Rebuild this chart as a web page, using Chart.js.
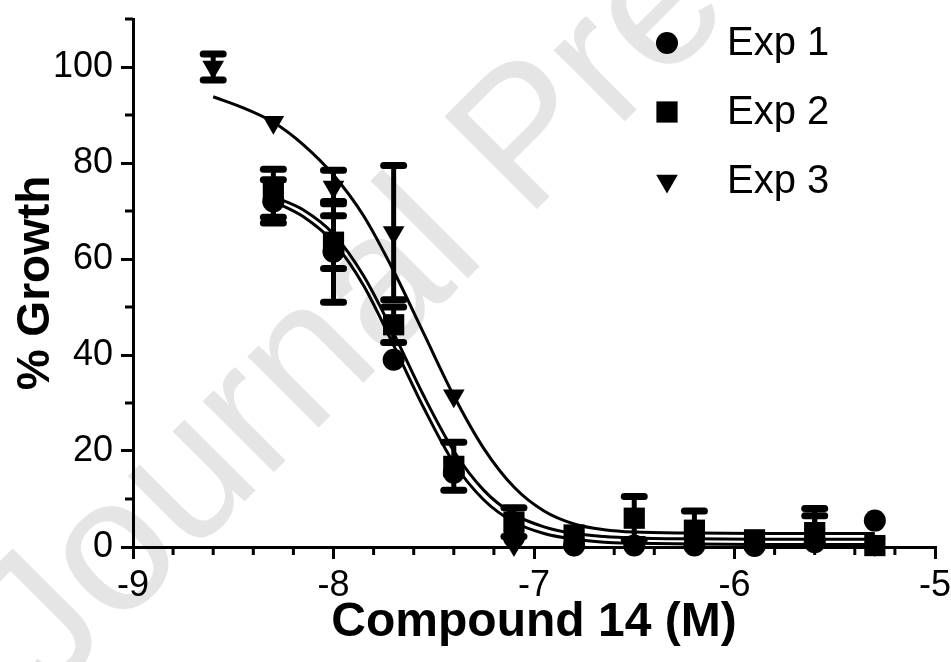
<!DOCTYPE html>
<html><head><meta charset="utf-8">
<script src="https://cdn.jsdelivr.net/npm/chart.js@4.4.0/dist/chart.umd.min.js"></script>
<style>html,body{margin:0;padding:0;background:#fff;}#wrap{width:951px;height:662px;}</style>
</head><body><div id="wrap"><canvas id="c" width="951" height="662"></canvas></div>
<script>
// ---------- data ----------
const seriesNames = ['Exp 1', 'Exp 2', 'Exp 3'];
const logConc = [-8.6, -8.3, -8.0, -7.7, -7.4, -7.1, -6.8, -6.5, -6.2, -5.9, -5.6, -5.3];
const exp1Growth = [null, 72.0, 61.5, 39.0, 15.5, 2.0, 0.3, 0.3, 0.3, 0.2, 1.0, 5.5];
const exp1Err    = [0, 4.5, 10.5, 0, 0, 0, 0, 0, 0, 0, 0, 0];
const exp2Growth = [null, 73.7, 63.5, 46.3, 16.8, 5.2, 2.5, 6.0, 3.5, 1.5, 3.0, 0.3];
const exp2Err    = [0, 5.0, 5.5, 3.7, 5.0, 3.0, 0, 4.5, 4.0, 0, 3.5, 0];
const exp3Growth = [100.0, 88.5, 75.0, 65.5, 31.5, 0.5, 0.5, 1.0, 1.0, 0.5, 2.5, 0.5];
const exp3Err    = [2.7, 0, 3.5, 14.0, 0, 0, 0, 0, 0, 0, 5.5, 0];

const fitConc3  = [-8.6, -8.45, -8.3, -8.15, -8.0, -7.85, -7.7, -7.55, -7.4, -7.25, -7.1, -6.95, -6.8, -6.65, -6.5, -6.2, -5.9, -5.6, -5.3];
const fitExp3   = [93.8, 91.5, 88.5, 83.8, 77.5, 69.0, 57.5, 44.5, 31.5, 20.5, 12.5, 7.5, 4.8, 3.6, 3.1, 2.9, 2.8, 2.8, 2.8];
const fitConc12 = [-8.3, -8.15, -8.0, -7.85, -7.7, -7.55, -7.4, -7.25, -7.1, -6.95, -6.8, -6.65, -6.5, -6.2, -5.9, -5.6, -5.3];
const fitExp1   = [72.0, 68.8, 63.5, 54.5, 42.0, 29.0, 17.5, 9.8, 5.2, 2.8, 1.6, 1.0, 0.8, 0.6, 0.5, 0.5, 0.5];
const fitExp2   = [73.0, 70.2, 65.2, 56.5, 44.5, 31.5, 20.0, 11.8, 6.8, 4.2, 2.8, 2.2, 1.9, 1.7, 1.6, 1.6, 1.6];

const xMajorTicks = [-9, -8, -7, -6, -5];
const xMinorTicks = [-8.8, -8.6, -8.4, -8.2, -7.8, -7.6, -7.4, -7.2, -6.8, -6.6, -6.4, -6.2, -5.8, -5.6, -5.4, -5.2];
const yMajorTicks = [0, 20, 40, 60, 80, 100];
const yMinorTicks = [10, 30, 50, 70, 90, 110];
const xTitle = 'Compound 14 (M)';
const yTitle = '% Growth';
const watermarkText = 'Journal Pre-proof';

// ---------- helpers ----------
const FONT = "Arial, 'Liberation Sans', sans-serif";
function pts(xs, ys) {
  const out = [];
  xs.forEach((x, i) => { if (ys[i] !== null && ys[i] !== undefined) out.push({x: x, y: ys[i]}); });
  return out;
}
function errs(xs, ys, es) {
  const out = [];
  xs.forEach((x, i) => { if (ys[i] !== null && ys[i] !== undefined) out.push(es[i]); });
  return out;
}

const watermarkPlugin = {
  id: 'watermark',
  beforeDraw(chart) {
    const ctx = chart.ctx;
    ctx.save();
    ctx.fillStyle = '#ffffff';
    ctx.fillRect(0, 0, chart.width, chart.height);
    ctx.translate(48, 698);
    ctx.rotate(-45 * Math.PI / 180);
    ctx.font = '190px ' + FONT;
    ctx.fillStyle = '#e5e5e5';
    ctx.textBaseline = 'alphabetic';
    ctx.fillText(watermarkText, 0, 0);
    ctx.restore();
  }
};

const minorTickPlugin = {
  id: 'minorTicks',
  beforeDatasetsDraw(chart) {
    const {ctx, scales: {x, y}} = chart;
    ctx.save();
    ctx.strokeStyle = '#000';
    ctx.lineWidth = 3;
    xMinorTicks.forEach(v => {
      const px = x.getPixelForValue(v);
      ctx.beginPath(); ctx.moveTo(px, x.top); ctx.lineTo(px, x.top + 8); ctx.stroke();
    });
    yMinorTicks.forEach(v => {
      const py = y.getPixelForValue(v);
      ctx.beginPath(); ctx.moveTo(y.right, py); ctx.lineTo(y.right - 8, py); ctx.stroke();
    });
    ctx.restore();
  }
};

const errorBarPlugin = {
  id: 'errorBars',
  afterDatasetDraw(chart, args) {
    const ds = chart.data.datasets[args.index];
    if (!ds.errorBars) return;
    const {ctx, scales: {x, y}} = chart;
    ctx.save();
    ctx.strokeStyle = '#000';
    ds.data.forEach((p, i) => {
      const e = ds.errorBars[i];
      if (!e) return;
      const px = x.getPixelForValue(p.x);
      const top = y.getPixelForValue(p.y + e);
      const lowVal = p.y - e;
      const bot = y.getPixelForValue(Math.max(lowVal, y.min));
      ctx.lineWidth = 5; ctx.lineCap = 'butt';
      ctx.beginPath(); ctx.moveTo(px, top); ctx.lineTo(px, bot); ctx.stroke();
      ctx.lineWidth = 7; ctx.lineCap = 'round';
      ctx.beginPath(); ctx.moveTo(px - 10, top); ctx.lineTo(px + 10, top); ctx.stroke();
      if (lowVal >= y.min) {
        ctx.beginPath(); ctx.moveTo(px - 10, bot); ctx.lineTo(px + 10, bot); ctx.stroke();
      }
    });
    ctx.restore();
  }
};

const legendPlugin = {
  id: 'customLegend',
  afterDraw(chart) {
    const ctx = chart.ctx;
    ctx.save();
    ctx.fillStyle = '#000';
    ctx.font = '40px ' + FONT;
    ctx.textBaseline = 'middle';
    ctx.textAlign = 'left';
    seriesNames.forEach((name, i) => {
      const ds = chart.data.datasets[i];
      const cy = 43 + i * 69;
      Chart.helpers.drawPoint(ctx, {pointStyle: ds.pointStyle, radius: ds.pointRadius, rotation: ds.pointRotation || 0, borderWidth: 0}, 667, cy);
      ctx.fillText(name, 727, cy + 1);
    });
    ctx.restore();
  }
};

const pointBase = {showLine: false, backgroundColor: '#000', borderColor: '#000', borderWidth: 0, pointBorderWidth: 0, clip: false};
const lineBase = {showLine: true, borderColor: '#000', borderWidth: 3, pointRadius: 0, cubicInterpolationMode: 'monotone', fill: false, clip: false};

new Chart(document.getElementById('c'), {
  type: 'scatter',
  data: {
    datasets: [
      Object.assign({label: seriesNames[0], data: pts(logConc, exp1Growth), errorBars: errs(logConc, exp1Growth, exp1Err), pointStyle: 'circle', pointRadius: 11}, pointBase),
      Object.assign({label: seriesNames[1], data: pts(logConc, exp2Growth), errorBars: errs(logConc, exp2Growth, exp2Err), pointStyle: 'rect', pointRadius: 15}, pointBase),
      Object.assign({label: seriesNames[2], data: pts(logConc, exp3Growth), errorBars: errs(logConc, exp3Growth, exp3Err), pointStyle: 'triangle', pointRotation: 180, pointRadius: 12.5}, pointBase),
      Object.assign({label: seriesNames[0] + ' fit', data: pts(fitConc12, fitExp1)}, lineBase),
      Object.assign({label: seriesNames[1] + ' fit', data: pts(fitConc12, fitExp2)}, lineBase),
      Object.assign({label: seriesNames[2] + ' fit', data: pts(fitConc3, fitExp3)}, lineBase)
    ]
  },
  options: {
    responsive: false,
    animation: false,
    devicePixelRatio: 1,
    layout: {padding: {left: 0, right: 16, top: 19, bottom: 0}},
    plugins: {legend: {display: false}, tooltip: {enabled: false}},
    scales: {
      x: {
        type: 'linear', min: -9, max: -5,
        afterBuildTicks: s => { s.ticks = xMajorTicks.map(v => ({value: v})); },
        afterFit: s => { s.height = 115; s.paddingLeft = 0; s.paddingRight = 0; },
        ticks: {color: '#000', font: {family: FONT, size: 36}, padding: 5},
        grid: {drawOnChartArea: false, drawTicks: true, tickLength: 12, color: '#000', lineWidth: 3},
        border: {display: true, color: '#000', width: 3},
        title: {display: true, text: xTitle, color: '#000', font: {family: FONT, size: 48, weight: 'bold'}, padding: {top: 0, bottom: 10}}
      },
      y: {
        type: 'linear', min: 0, max: 110,
        afterBuildTicks: s => { s.ticks = yMajorTicks.map(v => ({value: v})); },
        afterFit: s => { s.width = 133; s.paddingTop = 0; s.paddingBottom = 0; },
        ticks: {color: '#000', font: {family: FONT, size: 36}, padding: 8},
        grid: {drawOnChartArea: false, drawTicks: true, tickLength: 12, color: '#000', lineWidth: 3},
        border: {display: true, color: '#000', width: 3},
        title: {display: true, text: yTitle, color: '#000', font: {family: FONT, size: 46, weight: 'bold'}, padding: {top: 9, bottom: 0}}
      }
    }
  },
  plugins: [watermarkPlugin, minorTickPlugin, errorBarPlugin, legendPlugin]
});
</script>
</body></html>
